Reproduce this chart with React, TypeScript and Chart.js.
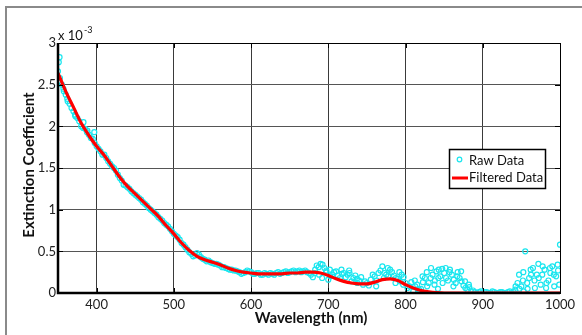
import { useEffect, useRef } from "react";
import { Chart, registerables } from "chart.js";

Chart.register(...registerables);

const rawWavelengths = [
  350, 355, 360, 365, 370, 375, 380, 385, 390, 395, 400, 405, 410, 415, 420, 425, 430, 435, 440, 445,
  450, 455, 460, 465, 470, 475, 480, 485, 490, 495, 500, 505, 510, 515, 520, 525, 530, 535, 540, 545,
  550, 555, 560, 565, 570, 575, 580, 585, 590, 595, 600, 605, 610, 615, 620, 625, 630, 635, 640, 645,
  650, 655, 660, 665, 670, 675, 680, 685, 690, 695, 700, 705, 710, 715, 720, 725, 730, 735, 740, 745,
  750, 755, 760, 765, 770, 775, 780, 785, 790, 795, 800, 805, 810, 815, 820, 825, 830, 835, 840, 845,
  850, 855, 860, 865, 870, 875, 880, 885, 890, 895, 900, 905, 910, 915, 920, 925, 930, 935, 940, 945,
  950, 955, 960, 965, 970, 975, 980, 985, 990, 995, 1000,
];
const rawValues = [
  2.66, 2.5, 2.38, 2.27, 2.18, 2.1, 2.0, 1.97, 1.9, 1.85, 1.76, 1.7, 1.66, 1.58, 1.52, 1.47, 1.38, 1.3, 1.27, 1.22,
  1.18, 1.14, 1.09, 1.05, 1.0, 0.96, 0.91, 0.87, 0.82, 0.77, 0.71, 0.67, 0.6, 0.55, 0.49, 0.44, 0.48, 0.43, 0.4, 0.39,
  0.36, 0.35, 0.33, 0.31, 0.29, 0.28, 0.27, 0.25, 0.24, 0.27, 0.25, 0.23, 0.24, 0.22, 0.23, 0.24, 0.22, 0.25, 0.24, 0.26,
  0.25, 0.27, 0.26, 0.25, 0.27, 0.24, 0.19, 0.33, 0.35, 0.3, 0.16, 0.22, 0.26, 0.18, 0.24, 0.22, 0.14, 0.21, 0.15, 0.1,
  0.12, 0.16, 0.2, 0.24, 0.32, 0.22, 0.28, 0.21, 0.17, 0.22, 0.12, 0.08, 0.02, 0.1, 0.05, 0.18, 0.12, 0.22, 0.26, 0.2,
  0.24, 0.15, 0.22, 0.12, 0.18, 0.09, 0.04, 0.02, 0.01, 0.01, 0.0, 0.01, 0.0, 0.01, 0.0, 0.01, 0.0, 0.02, 0.01, 0.12,
  0.08, 0.5, 0.18, 0.3, 0.22, 0.1, 0.28, 0.15, 0.32, 0.2, 0.58,
];
const rawWavelengthsB = [
  352.5, 357.5, 362.5, 367.5, 372.5, 377.5, 382.5, 387.5, 392.5, 397.5,
  402.5, 407.5, 412.5, 417.5, 422.5, 427.5, 432.5, 437.5, 442.5, 447.5,
  452.5, 457.5, 462.5, 467.5, 472.5, 477.5, 482.5, 487.5, 492.5, 497.5,
  502.5, 507.5, 512.5, 517.5, 522.5, 527.5, 532.5, 537.5, 542.5, 547.5,
  552.5, 557.5, 562.5, 567.5, 572.5, 577.5, 582.5, 587.5, 592.5, 597.5,
  602.5, 607.5, 612.5, 617.5, 622.5, 627.5, 632.5, 637.5, 642.5, 647.5,
  652.5, 657.5, 662.5, 667.5, 672.5, 677.5, 682.5, 687.5, 692.5, 697.5,
  702.5, 707.5, 712.5, 717.5, 722.5, 727.5, 732.5, 737.5, 742.5, 747.5,
  752.5, 757.5, 762.5, 767.5, 772.5, 777.5, 782.5, 787.5, 792.5, 797.5,
  802.5, 807.5, 812.5, 817.5, 822.5, 827.5, 832.5, 837.5, 842.5, 847.5,
  852.5, 857.5, 862.5, 867.5, 872.5, 877.5, 882.5, 887.5, 892.5, 897.5,
  902.5, 907.5, 912.5, 917.5, 922.5, 927.5, 932.5, 937.5, 942.5, 947.5,
  952.5, 957.5, 962.5, 967.5, 972.5, 977.5, 982.5, 987.5, 992.5, 997.5,
];
const rawValuesB = [
  2.58, 2.42, 2.3, 2.22, 2.12, 2.06, 1.98, 1.93, 1.86, 1.8,
  1.73, 1.66, 1.62, 1.55, 1.5, 1.42, 1.35, 1.29, 1.25, 1.2,
  1.16, 1.12, 1.07, 1.02, 0.98, 0.94, 0.89, 0.84, 0.8, 0.74,
  0.69, 0.64, 0.58, 0.52, 0.47, 0.45, 0.46, 0.41, 0.38, 0.37,
  0.35, 0.34, 0.31, 0.3, 0.28, 0.27, 0.26, 0.23, 0.25, 0.26,
  0.23, 0.24, 0.22, 0.24, 0.22, 0.23, 0.24, 0.23, 0.25, 0.24,
  0.26, 0.25, 0.27, 0.26, 0.25, 0.22, 0.24, 0.31, 0.34, 0.27,
  0.2, 0.25, 0.21, 0.23, 0.19, 0.24, 0.18, 0.12, 0.19, 0.14,
  0.09, 0.22, 0.15, 0.27, 0.24, 0.2, 0.25, 0.18, 0.14, 0.19,
  0.06, 0.13, 0.08, 0.04, 0.13, 0.25, 0.18, 0.1, 0.18, 0.29,
  0.18, 0.28, 0.16, 0.25, 0.14, 0.06, 0.07, 0.03, 0.0, 0.02,
  0.01, 0.0, 0.02, 0.0, 0.01, 0.0, 0.01, 0.0, 0.08, 0.05,
  0.25, 0.12, 0.22, 0.06, 0.18, 0.32, 0.12, 0.24, 0.08, 0.27,
];
const extraWavelengths = [
  351, 352, 357, 362, 372, 383, 388, 397, 683, 688, 692, 697, 702, 717, 727, 737, 762, 772, 777, 787,
  792, 797, 812, 817, 822, 828, 833, 838, 842, 843, 848, 852, 857, 862, 867, 872, 877, 882, 942, 947,
  952, 953, 958, 962, 967, 972, 977, 982, 987, 992, 997, 999,
];
const extraValues = [
  2.77, 2.83, 2.45, 2.33, 2.14, 2.05, 1.95, 1.93, 0.28, 0.22, 0.18, 0.25, 0.28, 0.28, 0.27, 0.17, 0.08, 0.18, 0.3, 0.12,
  0.25, 0.1, 0.15, 0.02, 0.2, 0.08, 0.3, 0.15, 0.05, 0.28, 0.12, 0.3, 0.25, 0.08, 0.2, 0.26, 0.14, 0.1, 0.04, 0.22,
  0.15, 0.02, 0.05, 0.28, 0.15, 0.35, 0.22, 0.06, 0.3, 0.22, 0.34, 0.1,
];
const filteredWavelengths = [
  350, 360, 370, 380, 390, 400, 410, 420, 430, 440, 450, 460, 470, 480, 490, 500, 510, 520, 530, 540,
  550, 560, 570, 580, 590, 600, 610, 620, 630, 640, 650, 660, 670, 680, 690, 700, 710, 720, 730, 740,
  750, 760, 770, 780, 790, 800, 810, 820, 830, 840, 850, 860, 870, 880, 890, 900, 910, 920, 930, 940,
  950, 960, 970, 980, 990, 1000,
];
const filteredValues = [
  2.64, 2.42, 2.23, 2.04, 1.89, 1.76, 1.65, 1.52, 1.39, 1.28, 1.19, 1.1, 1.01, 0.92, 0.81, 0.71, 0.6, 0.51, 0.44, 0.4,
  0.37, 0.34, 0.3, 0.27, 0.25, 0.24, 0.23, 0.23, 0.23, 0.23, 0.24, 0.24, 0.25, 0.25, 0.24, 0.21, 0.17, 0.14, 0.12, 0.11,
  0.11, 0.13, 0.16, 0.17, 0.15, 0.1, 0.06, 0.03, 0.015, 0.005, 0, 0, 0, 0, 0, 0, 0, 0, 0, 0,
  0, 0, 0, 0, 0, 0,
];

const seriesLabels = ["Raw Data", "Filtered Data"];
const xTitle = "Wavelength (nm)";
const yTitle = "Extinction Coefficient";
const exponentBase = "x 10";
const exponentPower = "-3";

const FONT = "Lato, 'Open Sans', sans-serif";
const CYAN = "#19e6ef";
const RED = "#ff0000";

const decorPlugin = {
  id: "decor",
  beforeDraw(chart: any) {
    const ctx = chart.ctx;
    ctx.save();
    ctx.fillStyle = "#ffffff";
    ctx.fillRect(0, 0, chart.width, chart.height);
    ctx.strokeStyle = "#8a8a8a";
    ctx.lineWidth = 2;
    ctx.beginPath();
    ctx.moveTo(6, chart.height);
    ctx.lineTo(6, 7);
    ctx.lineTo(chart.width, 7);
    ctx.stroke();
    ctx.restore();
  },
  afterDraw(chart: any) {
    const ctx = chart.ctx;
    const a = chart.chartArea;
    const xs = chart.scales.x;
    const ys = chart.scales.y;
    ctx.save();
    ctx.strokeStyle = "#000";
    ctx.lineWidth = 1;
    ctx.strokeRect(Math.round(a.left) + 0.5, Math.round(a.top) + 0.5, Math.round(a.right - a.left), Math.round(a.bottom - a.top));
    ctx.lineWidth = 2.5;
    ctx.beginPath();
    ctx.moveTo(a.left, a.top);
    ctx.lineTo(a.left, a.bottom);
    ctx.lineTo(a.right, a.bottom);
    ctx.stroke();
    ctx.lineWidth = 1;
    ctx.beginPath();
    xs.ticks.forEach((t: any) => {
      const px = Math.round(xs.getPixelForValue(t.value)) + 0.5;
      ctx.moveTo(px, a.top);
      ctx.lineTo(px, a.top + 5);
      ctx.moveTo(px, a.bottom);
      ctx.lineTo(px, a.bottom - 5);
    });
    ys.ticks.forEach((t: any) => {
      const py = Math.round(ys.getPixelForValue(t.value)) + 0.5;
      ctx.moveTo(a.left, py);
      ctx.lineTo(a.left + 5, py);
      ctx.moveTo(a.right, py);
      ctx.lineTo(a.right - 5, py);
    });
    ctx.stroke();

    ctx.fillStyle = "#111";
    ctx.font = `bold 15px ${FONT}`;
    ctx.textAlign = "center";
    ctx.textBaseline = "middle";
    ctx.fillText(xTitle, (a.left + a.right) / 2 + 2, 318);
    ctx.save();
    ctx.translate(29, (a.top + a.bottom) / 2 - 3);
    ctx.rotate(-Math.PI / 2);
    ctx.fillText(yTitle, 0, 0);
    ctx.restore();

    ctx.font = `13px ${FONT}`;
    ctx.textAlign = "left";
    ctx.textBaseline = "middle";
    ctx.fillText(exponentBase, a.left, 36);
    const w = ctx.measureText(exponentBase).width;
    ctx.font = `9px ${FONT}`;
    ctx.fillText(exponentPower, a.left + w + 1, 30);

    const lx = 449, ly = 149, lw = 96, lh = 39;
    ctx.fillStyle = "#fff";
    ctx.fillRect(lx, ly, lw, lh);
    ctx.strokeStyle = "#000";
    ctx.lineWidth = 1.5;
    ctx.strokeRect(lx + 0.5, ly + 0.5, lw, lh);
    ctx.strokeStyle = CYAN;
    ctx.lineWidth = 1.2;
    ctx.beginPath();
    ctx.arc(459.5, 159.5, 2.3, 0, Math.PI * 2);
    ctx.stroke();
    ctx.strokeStyle = RED;
    ctx.lineWidth = 3;
    ctx.beginPath();
    ctx.moveTo(452, 178);
    ctx.lineTo(468, 178);
    ctx.stroke();
    ctx.fillStyle = "#111";
    ctx.font = `13px ${FONT}`;
    ctx.textAlign = "left";
    ctx.textBaseline = "middle";
    ctx.fillText(seriesLabels[0], 469, 161);
    ctx.fillText(seriesLabels[1], 469, 178);
    ctx.restore();
  },
};

export default function App() {
  const ref = useRef<HTMLCanvasElement | null>(null);
  useEffect(() => {
    if (!ref.current) return;
    const raw = rawWavelengths.map((x, i) => ({ x, y: rawValues[i] }));
    const rawB = rawWavelengthsB.map((x, i) => ({ x, y: rawValuesB[i] }));
    const extra = extraWavelengths.map((x, i) => ({ x, y: extraValues[i] }));
    const filtered = filteredWavelengths.map((x, i) => ({ x, y: filteredValues[i] }));
    const chart = new Chart(ref.current, {
      type: "scatter",
      data: {
        datasets: [
          {
            label: seriesLabels[1],
            data: filtered,
            showLine: true,
            borderColor: RED,
            borderWidth: 3.2,
            pointRadius: 0,
            cubicInterpolationMode: "monotone",
            order: 1,
          } as any,
          {
            label: seriesLabels[0],
            data: [...raw, ...rawB, ...extra],
            showLine: false,
            pointStyle: "circle",
            pointRadius: 2.5,
            pointBorderWidth: 1.2,
            pointBorderColor: CYAN,
            pointBackgroundColor: "rgba(0,0,0,0)",
            order: 2,
          } as any,
        ],
      },
      options: {
        responsive: false,
        animation: false,
        events: [],
        layout: { padding: { left: 0, top: 43, right: 22, bottom: 0 } },
        plugins: { legend: { display: false }, tooltip: { enabled: false } },
        scales: {
          x: {
            type: "linear",
            min: 350,
            max: 1000,
            ticks: {
              stepSize: 100,
              includeBounds: false,
              padding: 4,
              color: "#222",
              font: { family: FONT, size: 13 },
              callback: (v: any) => String(v),
            },
            grid: { color: "#3a3a3a", lineWidth: 1, drawTicks: false },
            border: { display: false },
            afterFit: (s: any) => {
              s.height = 42;
            },
          },
          y: {
            type: "linear",
            min: 0,
            max: 3,
            ticks: {
              stepSize: 0.5,
              padding: 2,
              color: "#222",
              font: { family: FONT, size: 13 },
              callback: (v: any) => String(v),
            },
            grid: { color: "#555", lineWidth: 1, drawTicks: false },
            border: { display: false },
            afterFit: (s: any) => {
              s.width = 58;
            },
          },
        },
      },
      plugins: [decorPlugin],
    });
    return () => chart.destroy();
  }, []);
  return (
    <div style={{ position: "fixed", left: 0, top: 0, width: 582, height: 335, background: "#fff" }}>
      <canvas ref={ref} width={582} height={335} style={{ display: "block" }} />
    </div>
  );
}
